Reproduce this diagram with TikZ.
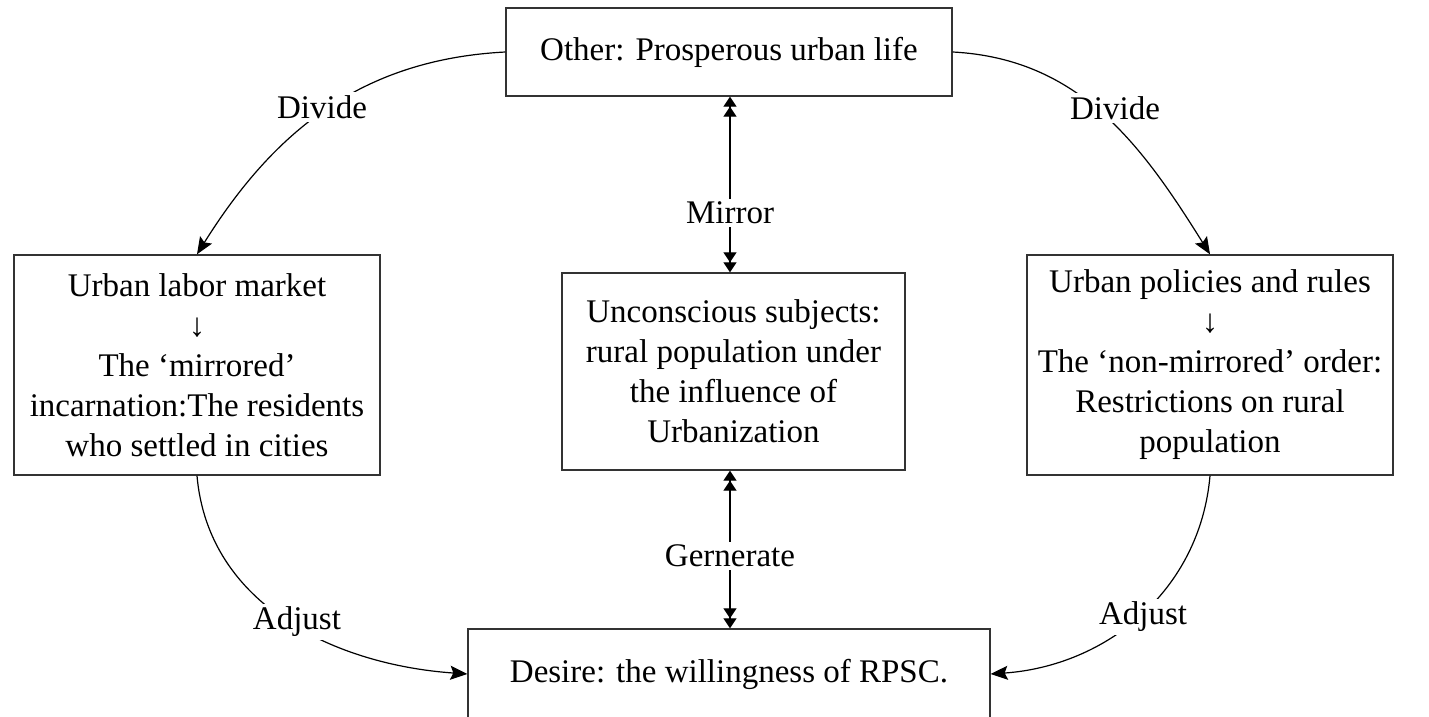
\documentclass[tikz,border=0pt]{standalone}
\usepackage{fontspec}
\setmainfont{Liberation Serif}
\usetikzlibrary{arrows.meta}
\begin{document}
\begin{tikzpicture}[x=1pt,y=-1pt,
  box/.style={draw=black!80,line width=1.4pt,align=center,inner sep=0pt,
    font=\fontsize{33}{40}\selectfont},
  lbl/.style={fill=white,inner sep=3pt,font=\fontsize{33}{40}\selectfont},
  curv/.style={line width=1.2pt,-{Stealth[length=17pt,width=14pt,inset=3pt]}},
  dbl/.style={line width=1.2pt,
    {Triangle[length=10pt,width=13pt]Triangle[length=10pt,width=13pt]}-{Triangle[length=10pt,width=13pt]Triangle[length=10pt,width=13pt]}}]
\clip (0,0) rectangle (1429,717);
\fill[white] (0,0) rectangle (1429,717);
\node[box,minimum width=446pt,minimum height=88pt] (top) at (729,52) {Other: Prosperous urban life};
\node[box,minimum width=366pt,minimum height=220pt] (lft) at (197,365)
  {Urban labor market\\ ↓\\ The ‘mirrored’\\ incarnation:The residents\\ who settled in cities};
\node[box,minimum width=343pt,minimum height=197pt] (mid) at (733.5,371.5)
  {Unconscious subjects:\\ rural population under\\ the influence of\\ Urbanization};
\node[box,minimum width=366pt,minimum height=220pt] (rgt) at (1210,365)
  {Urban policies and rules\\ ↓\\ The ‘non-mirrored’ order:\\ Restrictions on rural\\ population};
\node[box,minimum width=522pt,minimum height=90pt] (bot) at (729,674) {Desire: the willingness of RPSC.};
% connectors
\coordinate (mt) at ([xshift=1pt]top.south);
\draw[dbl] (mt) -- (mt |- mid.north) node[lbl,pos=0.66] (mirror) {Mirror};
\coordinate (gt) at (mt |- mid.south);
\draw[dbl] (gt) -- (gt |- bot.north) node[lbl,pos=0.54] (gen) {Gernerate};
\draw[curv] (top.west) to[out=183,in=58] (lft.north);
\draw[curv] (top.east) to[out=-3,in=122] (rgt.north);
\draw[curv] (lft.south) to[out=-85,in=176] (bot.west);
\draw[curv] (rgt.south) to[out=-95,in=4] (bot.east);
\node[lbl] (d1) at (322,107) {Divide};
\node[lbl] (d2) at (1115,108) {Divide};
\node[lbl] (a1) at (297,622) {Adjust};
\node[lbl] (a2) at (1143,617) {Adjust};
\end{tikzpicture}
\end{document}
